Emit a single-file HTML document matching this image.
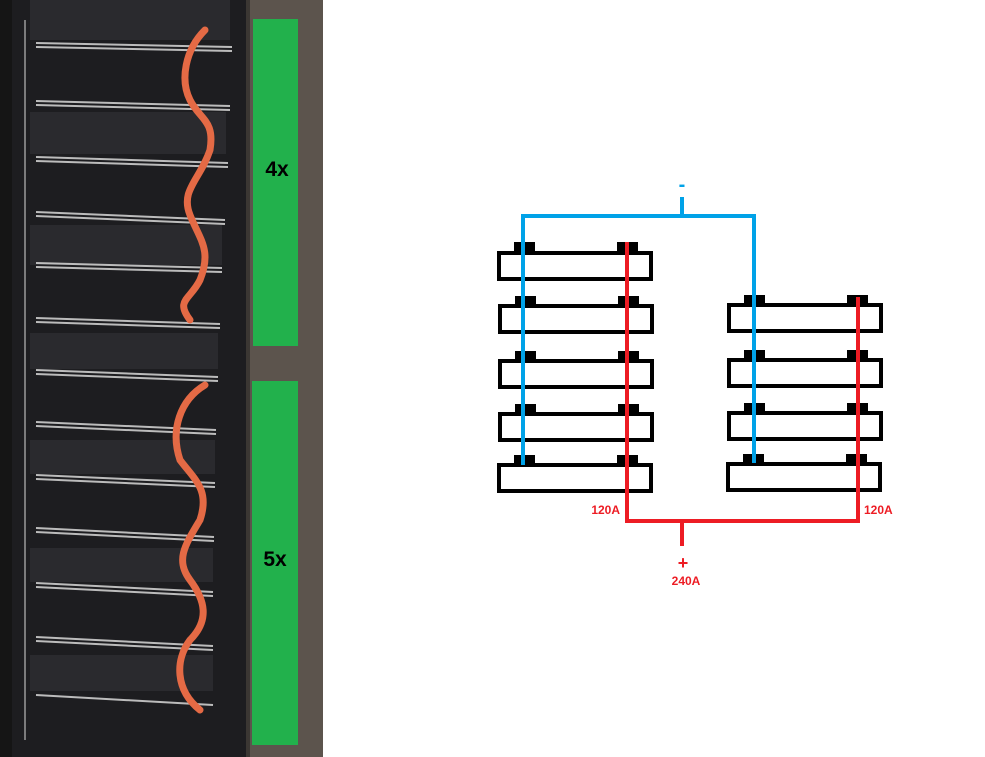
<!DOCTYPE html>
<html><head><meta charset="utf-8"><style>
html,body{margin:0;padding:0;background:#fff;}
body{width:985px;height:757px;overflow:hidden;position:relative;font-family:"Liberation Sans",sans-serif;}
svg{position:absolute;left:0;top:0;}
</style></head><body>
<svg width="985" height="757" viewBox="0 0 985 757" xmlns="http://www.w3.org/2000/svg">
<rect x="0" y="0" width="323" height="757" fill="#3b3733"/>
<rect x="250" y="0" width="73" height="757" fill="#5c544d"/>
<rect x="8" y="0" width="238" height="757" fill="#1d1d20"/>
<rect x="0" y="0" width="12" height="757" fill="#151515"/>
<g fill="#2a2a2e">
<rect x="30" y="0" width="200" height="40"/>
<rect x="30" y="112" width="196" height="42"/>
<rect x="30" y="225" width="192" height="40"/>
<rect x="30" y="333" width="188" height="36"/>
<rect x="30" y="440" width="185" height="34"/>
<rect x="30" y="548" width="183" height="34"/>
<rect x="30" y="655" width="183" height="36"/>
</g>
<g stroke="#d8d8d8" stroke-width="2" fill="none" opacity="0.85">
<path d="M36 43 L232 47 M36 47 L232 51"/>
<path d="M36 101 L230 106 M36 105 L230 110"/>
<path d="M36 157 L228 163 M36 161 L228 167"/>
<path d="M36 212 L225 220 M36 216 L225 224"/>
<path d="M36 263 L222 268 M36 267 L222 272"/>
<path d="M36 318 L220 324 M36 322 L220 328"/>
<path d="M36 370 L218 377 M36 374 L218 381"/>
<path d="M36 422 L216 430 M36 426 L216 434"/>
<path d="M36 475 L215 483 M36 479 L215 487"/>
<path d="M36 528 L214 537 M36 532 L214 541"/>
<path d="M36 583 L213 592 M36 587 L213 596"/>
<path d="M36 637 L213 646 M36 641 L213 650"/>
<path d="M36 695 L213 705"/>
</g>
<g stroke="#bbb" stroke-width="2" fill="none" opacity="0.6">
<path d="M25 20 L25 740"/>
</g>
<g stroke="#e46a45" stroke-width="7" fill="none" stroke-linecap="round">
<path d="M205 30 C185 50 180 80 190 100 C200 120 215 120 210 150 C200 180 180 190 190 215 C200 240 212 250 200 280 C190 300 175 300 190 320"/>
<path d="M205 385 C180 400 170 430 180 460 C195 480 210 490 200 520 C185 545 175 560 190 580 C205 600 210 620 190 640 C175 660 175 690 200 710"/>
</g>
<rect x="253" y="19" width="45" height="327" fill="#22b14c"/>
<rect x="252" y="381" width="46" height="364" fill="#22b14c"/>
<text x="277" y="176" font-size="21" font-weight="bold" text-anchor="middle" fill="#000">4x</text>
<text x="275" y="566" font-size="21" font-weight="bold" text-anchor="middle" fill="#000">5x</text>

<g fill="#000">
<rect x="514" y="242" width="21" height="12"/><rect x="617" y="242" width="21" height="12"/>
<rect x="515" y="296" width="21" height="12"/><rect x="618" y="296" width="21" height="12"/>
<rect x="515" y="351" width="21" height="12"/><rect x="618" y="351" width="21" height="12"/>
<rect x="515" y="404" width="21" height="12"/><rect x="618" y="404" width="21" height="12"/>
<rect x="514" y="455" width="21" height="12"/><rect x="617" y="455" width="21" height="12"/>
<rect x="744" y="295" width="21" height="12"/><rect x="847" y="295" width="21" height="12"/>
<rect x="744" y="350" width="21" height="12"/><rect x="847" y="350" width="21" height="12"/>
<rect x="744" y="403" width="21" height="12"/><rect x="847" y="403" width="21" height="12"/>
<rect x="743" y="454" width="21" height="12"/><rect x="846" y="454" width="21" height="12"/>
</g>
<g fill="#fff" stroke="#000" stroke-width="4">
<rect x="499" y="253" width="152" height="26"/>
<rect x="500" y="306" width="152" height="26"/>
<rect x="500" y="361" width="152" height="26"/>
<rect x="500" y="414" width="152" height="26"/>
<rect x="499" y="465" width="152" height="26"/>
<rect x="729" y="305" width="152" height="26"/>
<rect x="729" y="360" width="152" height="26"/>
<rect x="729" y="413" width="152" height="26"/>
<rect x="728" y="464" width="152" height="26"/>
</g>
<g stroke="#00a2e8" stroke-width="4" fill="none">
<path d="M523 465 L523 216 L754 216 L754 463"/>
<path d="M682 216 L682 197"/>
</g>
<text x="682" y="191" font-size="20" font-weight="bold" text-anchor="middle" fill="#00a2e8">-</text>
<g stroke="#ed1c24" stroke-width="4" fill="none">
<path d="M627 242 L627 521 L858 521 L858 297"/>
<path d="M682 521 L682 546"/>
</g>
<g fill="#ed1c24" font-weight="bold" font-size="12">
<text x="620" y="514" text-anchor="end">120A</text>
<text x="864" y="514">120A</text>
<text x="683" y="569" font-size="18" text-anchor="middle">+</text>
<text x="686" y="585" text-anchor="middle">240A</text>
</g>
</svg>
</body></html>
